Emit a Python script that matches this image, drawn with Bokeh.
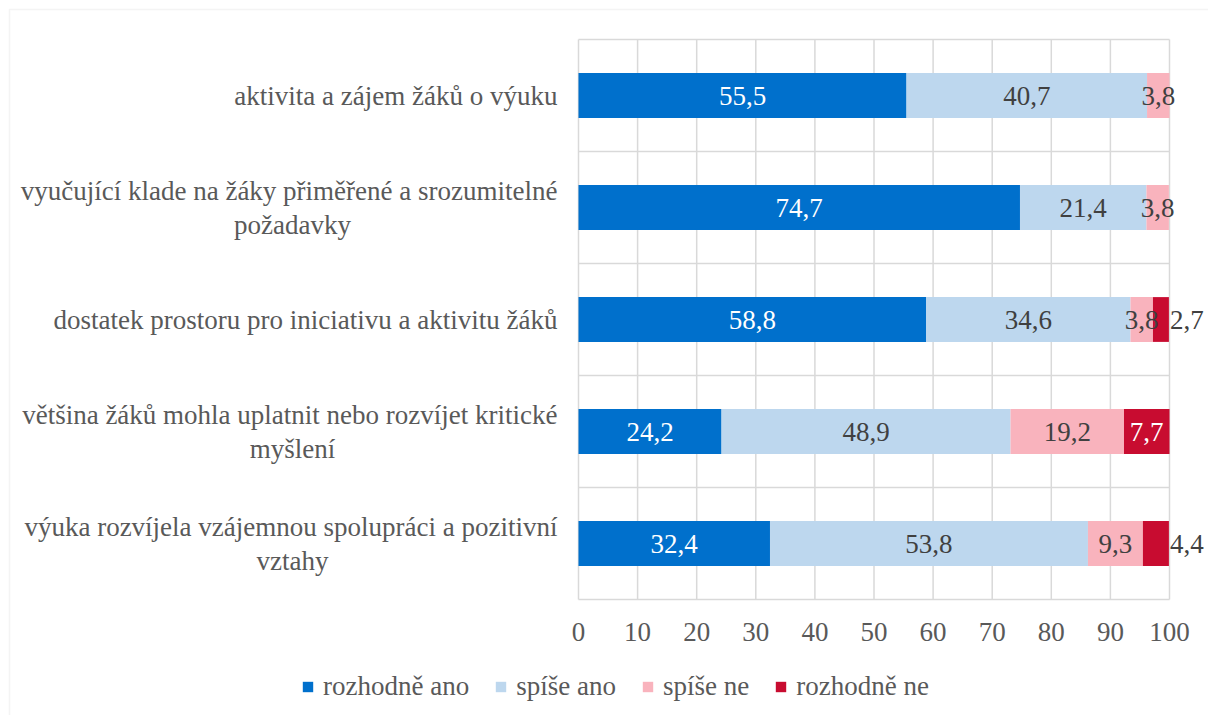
from bokeh.plotting import figure
from bokeh.models import (ColumnDataSource, LabelSet, FixedTicker, Legend,
                          LegendItem, BoxAnnotation, Range1d, LinearAxis)
from bokeh.embed import file_html
from bokeh.resources import INLINE

categories = [
    "aktivita a zájem žáků o výuku",
    "vyučující klade na žáky přiměřené a srozumitelné\npožadavky",
    "dostatek prostoru pro iniciativu a aktivitu žáků",
    "většina žáků mohla uplatnit nebo rozvíjet kritické\nmyšlení",
    "výuka rozvíjela vzájemnou spolupráci a pozitivní\nvztahy",
]
series = ["rozhodně ano", "spíše ano", "spíše ne", "rozhodně ne"]
rozhodne_ano = [55.5, 74.7, 58.8, 24.2, 32.4]
spise_ano = [40.7, 21.4, 34.6, 48.9, 53.8]
spise_ne = [3.8, 3.8, 3.8, 19.2, 9.3]
rozhodne_ne = [0.0, 0.0, 2.7, 7.7, 4.4]
x_ticks = [0, 10, 20, 30, 40, 50, 60, 70, 80, 90, 100]

colors = ["#0070CC", "#BDD7EE", "#F9B3BD", "#C80C30"]
label_colors = ["#FFFFFF", "#404040", "#404040", "#FFFFFF"]
FONT = "Liberation Serif"
FS = "27px"
GRID = "#D9D9D9"
TXT = "#595959"

W, H = 1208, 715
# plot-area geometry in canvas pixels
PL, PR, PT, PB = 578, 1169, 39, 599

values = [rozhodne_ano, spise_ano, spise_ne, rozhodne_ne]
keys = ["s0", "s1", "s2", "s3"]
n = len(categories)
ys = [n - i - 0.5 for i in range(n)]

xs_per_px = 100.0 / (PR - PL)
ys_per_px = n / (PB - PT)
x_range = Range1d(-PL * xs_per_px, 100 + (W - PR) * xs_per_px)
y_range = Range1d(-(H - PB) * ys_per_px, n + PT * ys_per_px)

p = figure(width=W, height=H, output_backend="svg", toolbar_location=None,
           x_range=x_range, y_range=y_range,
           x_axis_location=None, y_axis_location=None,
           min_border=0, outline_line_color=None)
p.xgrid.visible = False
p.ygrid.visible = False

# gridlines of the plot area
p.segment(x0=x_ticks, y0=[0] * len(x_ticks), x1=x_ticks, y1=[n] * len(x_ticks),
          line_color=GRID, line_width=1.5)
p.segment(x0=[0] * (n + 1), y0=list(range(n + 1)), x1=[100] * (n + 1), y1=list(range(n + 1)),
          line_color=GRID, line_width=1.5)

data = {"y": ys}
for k, v in zip(keys, values):
    data[k] = v
src = ColumnDataSource(data)
rends = p.hbar_stack(keys, y="y", height=0.4, fill_color=colors, line_color=None, source=src)

# data labels
inside = {"x": [], "y": [], "t": [], "c": []}
outside = {"x": [], "y": [], "t": []}
for i in range(n):
    cum = 0.0
    for s in range(len(values)):
        v = values[s][i]
        if v > 0:
            txt = f"{v:.1f}".replace(".", ",")
            if s == len(values) - 1 and v < 5:
                outside["x"].append(cum + v)
                outside["y"].append(ys[i])
                outside["t"].append(txt)
            else:
                inside["x"].append(cum + v / 2)
                inside["y"].append(ys[i])
                inside["t"].append(txt)
                inside["c"].append(label_colors[s])
        cum += v

p.add_layout(LabelSet(x="x", y="y", text="t", text_color="c", source=ColumnDataSource(inside),
                      text_align="center", text_baseline="middle",
                      text_font=FONT, text_font_size=FS))
p.add_layout(LabelSet(x="x", y="y", text="t", source=ColumnDataSource(outside),
                      text_align="left", text_baseline="middle", x_offset=1,
                      text_color="#404040", text_font=FONT, text_font_size=FS))

# category labels (wrapped lines: first right-aligned, second centred under it)
single = {"x": [], "y": [], "t": []}
first = {"x": [], "y": [], "t": []}
second = {"x": [], "y": [], "t": []}
for i, cat in enumerate(categories):
    lines = cat.split("\n")
    if len(lines) == 1:
        single["x"].append(0); single["y"].append(ys[i]); single["t"].append(lines[0])
    else:
        first["x"].append(0); first["y"].append(ys[i]); first["t"].append(lines[0])
        second["x"].append(0); second["y"].append(ys[i]); second["t"].append(lines[1])

common = dict(text_baseline="middle", text_font=FONT, text_font_size=FS, text_color=TXT)
p.add_layout(LabelSet(x="x", y="y", text="t", source=ColumnDataSource(single),
                      text_align="right", x_offset=-21, **common))
p.add_layout(LabelSet(x="x", y="y", text="t", source=ColumnDataSource(first),
                      text_align="right", x_offset=-21, y_offset=17, **common))
p.add_layout(LabelSet(x="x", y="y", text="t", source=ColumnDataSource(second),
                      text_align="center", x_offset=-286, y_offset=-17, **common))

# value axis
xaxis = LinearAxis(fixed_location=0, ticker=FixedTicker(ticks=x_ticks))
xaxis.axis_line_color = None
xaxis.major_tick_line_color = None
xaxis.minor_tick_line_color = None
xaxis.major_label_standoff = 17
xaxis.major_label_text_font = FONT
xaxis.major_label_text_font_size = FS
xaxis.major_label_text_color = TXT
p.add_layout(xaxis, "below")

# legend
items = [LegendItem(label=series[s], renderers=[rends[s]]) for s in range(len(series))]
legend = Legend(items=items, orientation="horizontal", location=(301, 13),
                glyph_width=13, glyph_height=13, label_standoff=9, spacing=25,
                padding=0, margin=0, border_line_color=None, background_fill_alpha=0,
                label_text_font=FONT, label_text_font_size=FS, label_text_color=TXT)
p.add_layout(legend, "center")

# chart border
p.add_layout(BoxAnnotation(left=9, right=W + 50, top=9, bottom=H + 50,
                           left_units="canvas", right_units="canvas",
                           top_units="canvas", bottom_units="canvas",
                           fill_alpha=0, line_color=GRID, line_width=1.5))

open("out.html", "w").write(file_html(p, INLINE))
